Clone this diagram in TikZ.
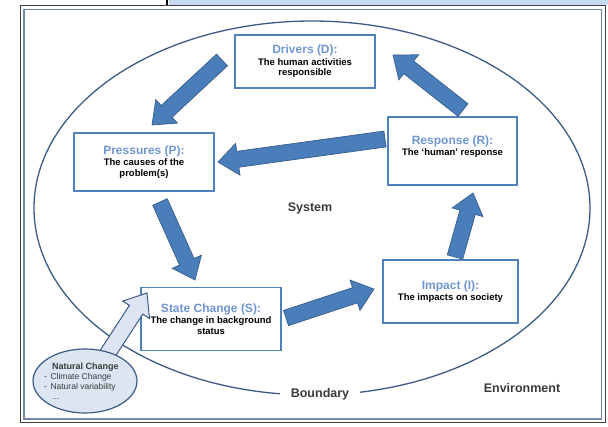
\documentclass[tikz,border=0pt]{standalone}
\usepackage{fontspec}
\setmainfont{Liberation Sans}
\usetikzlibrary{calc,shapes.geometric}

\definecolor{boxblue}{HTML}{4F81BD}
\definecolor{titleblue}{HTML}{7096D2}
\definecolor{arrowfill}{HTML}{4A7EBB}
\definecolor{arrowedge}{HTML}{385D8A}
\definecolor{rimblue}{HTML}{3B5B85}
\definecolor{natfill}{HTML}{DCE5F1}
\definecolor{framegray}{HTML}{7288A6}
\definecolor{topblue}{HTML}{C6D9F1}
\definecolor{labelgray}{HTML}{3A3A3A}

% arrow sizes (half shaft, half head, head length)
\newcommand{\shaftw}{8pt}
\newcommand{\headw}{16pt}
\newcommand{\headl}{20pt}

\newcommand{\boxtitle}[1]{{\color{titleblue}\fontsize{12}{13}\selectfont\bfseries #1}}

\tikzset{
  stage/.style={draw=boxblue, line width=1.4pt, fill=white, align=center,
    inner sep=2pt, font=\fontsize{9.5}{10.5}\selectfont\bfseries},
  blockarrow/.style={line width=0.7pt, line join=miter, to path={
    ($(\tikztostart)!\shaftw!90:(\tikztotarget)$)
    -- ($(\tikztotarget)!\headl!(\tikztostart)!\shaftw!-90:(\tikztostart)$)
    -- ($(\tikztotarget)!\headl!(\tikztostart)!\headw!-90:(\tikztostart)$)
    -- (\tikztotarget)
    -- ($(\tikztotarget)!\headl!(\tikztostart)!\headw!90:(\tikztostart)$)
    -- ($(\tikztotarget)!\headl!(\tikztostart)!\shaftw!90:(\tikztostart)$)
    -- ($(\tikztostart)!\shaftw!-90:(\tikztotarget)$) -- cycle}},
  flow/.style={blockarrow, fill=arrowfill, draw=arrowedge},
  natflow/.style={blockarrow, fill=natfill, draw=rimblue, line width=1pt},
  plain/.style={text=labelgray, font=\fontsize{12.5}{14}\selectfont\bfseries},
}

\begin{document}
\begin{tikzpicture}[x=1pt, y=-1pt]
    \useasboundingbox (0,0) rectangle (608,426);
    % frame
    \fill[topblue] (169,0) rectangle (608,4.5);
    \draw[black, line width=1.6pt] (167,0) -- (167,5);
    \draw[black!75, line width=0.8pt] (20,5) rectangle (605,422.5);
    \draw[framegray, line width=1.6pt] (24,9.5) rectangle (601.5,419);

    % system boundary
    \draw[rimblue, line width=1.3pt] (312,208) ellipse [x radius=278, y radius=187];

    % stages
    \node[stage, minimum width=140pt, minimum height=53pt] (drivers) at (305,61.5)
        {\boxtitle{Drivers (D):}\\[1pt] The human activities\\ responsible};
    \node[stage, minimum width=140pt, minimum height=58pt] (pressures) at (144,162)
        {\boxtitle{Pressures (P):}\\[1pt] The causes of the\\ problem(s)};
    \node[stage, minimum width=140pt, minimum height=63pt] (state) at (211,319)
        {\boxtitle{State Change (S):}\\[1pt] The change in background\\ status};
    \node[stage, minimum width=135pt, minimum height=63pt] (impact) at (450.5,291.5)
        {\boxtitle{Impact (I):}\\[1pt] The impacts on society};
    \node[stage, minimum width=129pt, minimum height=68pt] (response) at (452.5,151)
        {\boxtitle{Response (R):}\\[1pt] The `human' response\\ \mbox{}};

    % arrow ends
    \coordinate (dp1) at (222,60);  \coordinate (dp2) at (152,125);
    \coordinate (ps1) at (160,202); \coordinate (ps2) at (195,280);
    \coordinate (si1) at (286,318); \coordinate (si2) at (374,289);
    \coordinate (ir1) at (455,257); \coordinate (ir2) at (473,193);
    \coordinate (rp1) at (385,139); \coordinate (rp2) at (218,162);
    \coordinate (rd1) at (463,110); \coordinate (rd2) at (393,55);
    \coordinate (nc1) at (106,356); \coordinate (nc2) at (147,293);

    \draw[flow] (dp1) to (dp2);
    \draw[flow] (ps1) to (ps2);
    \draw[flow] (si1) to (si2);
    \draw[flow] (ir1) to (ir2);
    \draw[flow] (rp1) to (rp2);
    \draw[flow] (rd1) to (rd2);
    \draw[natflow] (nc1) to (nc2);

    % natural change
    \node[draw=rimblue, fill=natfill, line width=1.2pt, ellipse, minimum width=104pt,
        minimum height=64pt, inner sep=0pt] (natural) at (85,381) {};
    \node[anchor=west, align=left, inner sep=0pt, font=\fontsize{8.5}{10}\selectfont,
        text=labelgray] (natlist) at (44,381)
        {\hspace*{8pt}{\fontsize{9}{10}\selectfont\bfseries Natural Change}\\
         -\hspace{3.5pt}Climate Change\\ -\hspace{3.5pt}Natural variability\\ \hspace*{8pt}...};

    % labels
    \node[plain] (system) at (310,208) {System};
    \node[plain, fill=white, inner xsep=11pt] (boundary) at (320,394) {Boundary};
    \node[plain] (environment) at (522,388) {Environment};
\end{tikzpicture}
\end{document}
